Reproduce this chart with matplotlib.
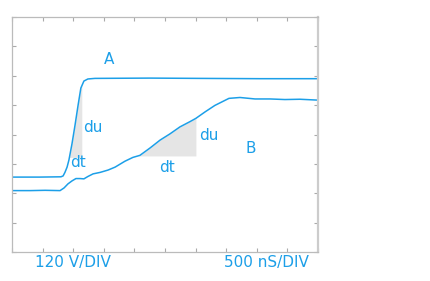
import numpy as np
from matplotlib import pyplot as plt

# traces in divisions (10 x 8 grid)
a_x = [0, 0.9, 1.6, 1.67, 1.73, 1.8, 1.86, 1.96, 2.06, 2.16, 2.25, 2.35, 2.48, 2.71, 4.5, 6.15, 8.1, 10]
a_y = [2.55, 2.55, 2.56, 2.59, 2.71, 2.89, 3.13, 3.68, 4.32, 5.0, 5.58, 5.82, 5.89, 5.91, 5.92, 5.91, 5.9, 5.9]

b_x = [0, 0.59, 1.08, 1.57, 1.7, 1.83, 1.96, 2.09, 2.22, 2.35, 2.48, 2.65, 2.88, 3.14, 3.37,
       3.69, 3.95, 4.18, 4.51, 4.84, 5.16, 5.49, 5.82, 6.01, 6.31, 6.63, 7.09, 7.45, 7.94,
       8.43, 8.92, 9.41, 10]
b_y = [2.09, 2.09, 2.1, 2.09, 2.18, 2.32, 2.42, 2.5, 2.5, 2.49, 2.57, 2.66, 2.71, 2.79, 2.89,
       3.09, 3.22, 3.29, 3.54, 3.81, 4.02, 4.26, 4.44, 4.55, 4.77, 4.99, 5.23, 5.26, 5.21,
       5.21, 5.19, 5.2, 5.17]

# slope triangles
a_tri_x = 2.28   # right edge
a_tri_y = 3.22   # bottom edge
b_tri_x = (4.15, 6.01)
b_tri_y = 3.27

blue = '#1c9fe8'
shade = '#e5e5e5'

fig = plt.figure(figsize=(4.3, 2.81), dpi=100)
ax = fig.add_axes([12/430, 29/281, 306/430, 235/281])

# triangle on A: between the rising edge and a vertical line
rise = slice(2, 12)
top = np.interp(a_tri_x, a_x[rise], a_y[rise])
yy = np.linspace(a_tri_y, top, 50)
ax.fill_betweenx(yy, np.interp(yy, a_y[rise], a_x[rise]), a_tri_x, color=shade, lw=0)

# triangle on B: under the curve down to a horizontal line
xx = np.linspace(b_tri_x[0], b_tri_x[1], 50)
ax.fill_between(xx, b_tri_y, np.interp(xx, b_x, b_y), color=shade, lw=0)

ax.plot(a_x, a_y, color=blue, lw=1.1)
ax.plot(b_x, b_y, color=blue, lw=1.1)

ax.set_xlim(0, 10)
ax.set_ylim(0, 8)
ax.set_xticks(range(11))
ax.set_yticks(range(9))
ax.set_xticklabels([])
ax.set_yticklabels([])
ax.tick_params(direction='in', length=3, color='#aaaaaa', top=True, right=True)
for s in ax.spines.values():
    s.set_color('#bbbbbb')
    s.set_linewidth(0.9)
ax.spines['right'].set_linewidth(1.6)
ax.spines['right'].set_color('#cccccc')

fs = 11
ax.text(3.17, 6.57, 'A', color=blue, fontsize=fs, ha='center', va='center')
ax.text(2.63, 4.24, 'du', color=blue, fontsize=fs, ha='center', va='center')
ax.text(2.16, 3.03, 'dt', color=blue, fontsize=fs, ha='center', va='center')
ax.text(6.42, 3.97, 'du', color=blue, fontsize=fs, ha='center', va='center')
ax.text(5.08, 2.89, 'dt', color=blue, fontsize=fs, ha='center', va='center')
ax.text(7.81, 3.51, 'B', color=blue, fontsize=fs, ha='center', va='center')

fig.text(72.5/430, 1 - 262/281, '120 V/DIV', color=blue, fontsize=fs, ha='center', va='center')
fig.text(266/430, 1 - 262/281, '500 nS/DIV', color=blue, fontsize=fs, ha='center', va='center')

fig.savefig('out.png', dpi=100)
